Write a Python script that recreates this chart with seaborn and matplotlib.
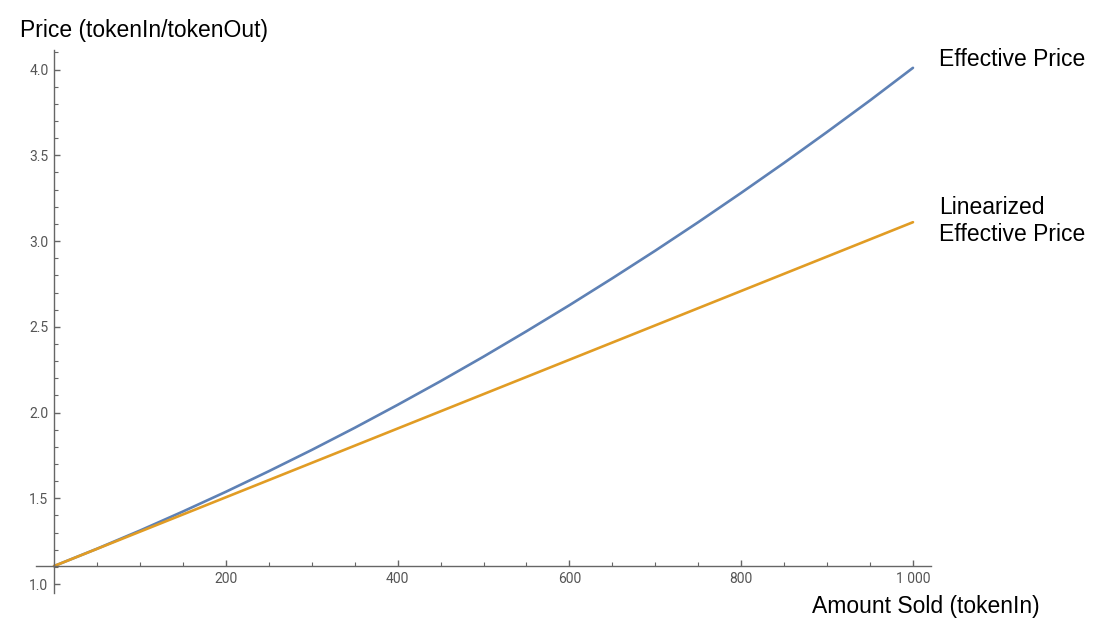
import numpy as np
import pandas as pd
import matplotlib
matplotlib.use("Agg")
import matplotlib.pyplot as plt
import seaborn as sns
from matplotlib.ticker import MultipleLocator, FixedLocator, FuncFormatter

# values
amount = [0, 50, 100, 150, 200, 250, 300, 350, 400, 450, 500,
          550, 600, 650, 700, 750, 800, 850, 900, 950, 1000]
effective_price = [1.105, 1.206, 1.312, 1.423, 1.538, 1.658, 1.782, 1.911, 2.045, 2.183, 2.326,
                   2.474, 2.626, 2.783, 2.944, 3.110, 3.281, 3.456, 3.636, 3.820, 4.010]
linear_amount = [0, 1000]
linearized_price = [1.105, 3.11]

x_ticks = [200, 400, 600, 800, 1000]
y_ticks = [1.0, 1.5, 2.0, 2.5, 3.0, 3.5, 4.0]

blue = "#5E81B5"
orange = "#E19C24"

df = pd.concat([
    pd.DataFrame({"amount": amount, "price": effective_price, "series": "Effective Price"}),
    pd.DataFrame({"amount": linear_amount, "price": linearized_price, "series": "Linearized"}),
])

sns.set_style("white")
plt.rcParams["font.family"] = ["Liberation Sans", "DejaVu Sans"]

fig = plt.figure(figsize=(11.04, 6.34), dpi=100)
ax = fig.add_axes([36 / 1104, 41 / 634, (931 - 36) / 1104, (593 - 50) / 634])

sns.lineplot(data=df, x="amount", y="price", hue="series",
             palette={"Effective Price": blue, "Linearized": orange},
             linewidth=1.9, legend=False, ax=ax, clip_on=False)

ax.set_xlim(-21, 1021)
ax.set_ylim(0.948, 4.114)

# Mathematica-style crossing axes
ax.spines["top"].set_visible(False)
ax.spines["right"].set_visible(False)
ax.spines["left"].set_position(("data", 0))
ax.spines["bottom"].set_position(("data", 1.105))
for s in ("left", "bottom"):
    ax.spines[s].set_color("#666666")
    ax.spines[s].set_linewidth(1.0)

ax.xaxis.set_major_locator(FixedLocator(x_ticks))
ax.xaxis.set_minor_locator(MultipleLocator(50))
ax.yaxis.set_major_locator(FixedLocator(y_ticks))
ax.yaxis.set_minor_locator(MultipleLocator(0.1))
ax.xaxis.set_major_formatter(FuncFormatter(lambda v, p: f"{int(v):,}".replace(",", " ")))
ax.yaxis.set_major_formatter(FuncFormatter(lambda v, p: f"{v:.1f}"))

ax.tick_params(axis="both", which="both", direction="in", color="#666666",
               labelcolor="#555555", labelsize=10, bottom=True, left=True)
ax.tick_params(axis="both", which="major", length=4.5, width=1.0, pad=4)
ax.tick_params(axis="both", which="minor", length=3, width=0.8)
for lab in ax.get_xticklabels() + ax.get_yticklabels():
    lab.set_family(["Roboto", "DejaVu Sans"])

ax.set_xlabel("")
ax.set_ylabel("")
ax.grid(False)

fig.text(20 / 1104, 1 - 30 / 634, "Price (tokenIn/tokenOut)", fontsize=16.5,
         ha="left", va="center", color="black")
fig.text(812 / 1104, 1 - 607 / 634, "Amount Sold (tokenIn)", fontsize=16.5,
         ha="left", va="center", color="black")
fig.text(939 / 1104, 1 - 60 / 634, "Effective Price", fontsize=16.5,
         ha="left", va="center", color="black")
fig.text(939 / 1104, 1 - 221 / 634, "Linearized\nEffective Price", fontsize=16.5,
         ha="left", va="center", color="black", linespacing=1.2)

fig.savefig("out.png", dpi=100, facecolor="white")
